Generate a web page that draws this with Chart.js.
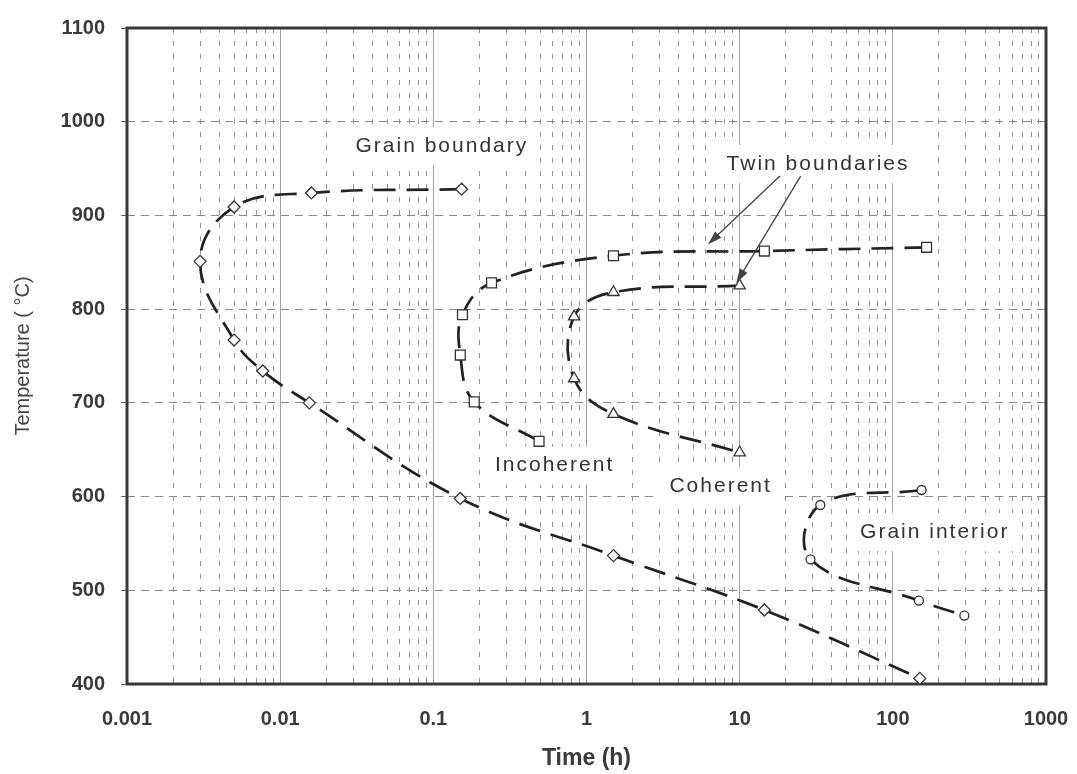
<!DOCTYPE html>
<html>
<head>
<meta charset="utf-8">
<script src="https://cdn.jsdelivr.net/npm/chart.js@4.4.1/dist/chart.umd.min.js"></script>
<style>
  html, body { margin: 0; padding: 0; background: #fff; }
  #wrap { width: 1077px; height: 774px; }
</style>
</head>
<body>
<div id="wrap"><canvas id="ttt"></canvas></div>
<script>
// values: time in hours, temperature in °C
const grainBoundaryTime = [0.153, 0.016, 0.005, 0.003, 0.005, 0.0077, 0.0155, 0.15, 1.5, 14.5, 150];
const grainBoundaryTemp = [928, 924, 909, 851, 767, 734, 700, 598, 537, 479, 406];
const incoherentTime = [166, 14.5, 1.5, 0.24, 0.155, 0.15, 0.185, 0.49];
const incoherentTemp = [866, 862, 857, 828, 794, 751, 701, 659];
const coherentTime = [10, 1.5, 0.83, 0.83, 1.5, 10];
const coherentTemp = [825, 818, 792, 726, 688, 647];
const grainInteriorTime = [154, 33.6, 29, 148, 293];
const grainInteriorTemp = [607, 591, 533, 489, 473];

// axis ticks
const decadeTicks = [0.001, 0.01, 0.1, 1, 10, 100, 1000];
const decadeLabels = ['0.001', '0.01', '0.1', '1', '10', '100', '1000'];
const minorSteps = [2, 3, 4, 5, 6, 7, 8, 9];

// text labels and the two arrows from "Twin boundaries"
const labelText = ['Grain boundary', 'Twin boundaries', 'Incoherent', 'Coherent', 'Grain interior'];
const labelTime = [0.112, 32, 0.61, 7.4, 185];
const labelTemp = [974, 955, 633, 611, 562];
const arrowStartTime = [18.3, 25];
const arrowStartTemp = [942, 942];
const arrowEndTime = [6.2, 9.5];
const arrowEndTemp = [869, 828];

const isDecade = v => decadeTicks.some(d => Math.abs(v / d - 1) < 1e-6);

function curve(label, xs, ys, style, radius) {
    return {
        label: label,
        data: xs.map((x, i) => ({ x: x, y: ys[i] })),
        showLine: true,
        tension: 0.4,
        borderColor: '#222',
        borderWidth: 2.7,
        borderDash: [22, 11],
        pointStyle: style,
        pointRadius: radius,
        pointHoverRadius: radius,
        pointBackgroundColor: '#fff',
        pointBorderColor: '#333',
        pointBorderWidth: 1.3
    };
}

const decor = {
    id: 'decor',
    beforeDatasetsDraw(chart) {
        const { ctx, chartArea: a, scales: { x, y } } = chart;
        ctx.save();
        ctx.font = '21px "Liberation Sans", Arial, sans-serif';
        ctx.letterSpacing = '2px';
        ctx.textAlign = 'center';
        ctx.textBaseline = 'middle';
        labelText.forEach((t, i) => {
            const px = x.getPixelForValue(labelTime[i]);
            const py = y.getPixelForValue(labelTemp[i]);
            const w = ctx.measureText(t).width + 24;
            ctx.fillStyle = '#fff';
            ctx.fillRect(px - w / 2, py - 19, w, 38);
            ctx.fillStyle = '#333';
            ctx.fillText(t, px + 1, py);
        });
        ctx.strokeStyle = '#383838';
        ctx.lineWidth = 3;
        ctx.strokeRect(a.left, a.top, a.width, a.height);
        ctx.restore();
    },
    afterDatasetsDraw(chart) {
        const { ctx, scales: { x, y } } = chart;
        ctx.save();
        ctx.strokeStyle = '#444';
        ctx.fillStyle = '#444';
        ctx.lineWidth = 1.3;
        arrowStartTime.forEach((t, i) => {
            const x0 = x.getPixelForValue(t), y0 = y.getPixelForValue(arrowStartTemp[i]);
            const x1 = x.getPixelForValue(arrowEndTime[i]), y1 = y.getPixelForValue(arrowEndTemp[i]);
            const ang = Math.atan2(y1 - y0, x1 - x0);
            ctx.beginPath();
            ctx.moveTo(x0, y0);
            ctx.lineTo(x1 - Math.cos(ang) * 10, y1 - Math.sin(ang) * 10);
            ctx.stroke();
            ctx.beginPath();
            ctx.moveTo(x1, y1);
            ctx.lineTo(x1 - Math.cos(ang - 0.3) * 15, y1 - Math.sin(ang - 0.3) * 15);
            ctx.lineTo(x1 - Math.cos(ang + 0.3) * 15, y1 - Math.sin(ang + 0.3) * 15);
            ctx.closePath();
            ctx.fill();
        });
        ctx.restore();
    }
};

new Chart(document.getElementById('ttt'), {
    type: 'scatter',
    data: {
        datasets: [
            curve('Grain boundary', grainBoundaryTime, grainBoundaryTemp, 'rectRot', 6),
            curve('Incoherent', incoherentTime, incoherentTemp, 'rect', 7),
            curve('Coherent', coherentTime, coherentTemp, 'triangle', 6.5),
            curve('Grain interior', grainInteriorTime, grainInteriorTemp, 'circle', 4.5)
        ]
    },
    options: {
        responsive: true, maintainAspectRatio: false, animation: false,
        layout: { padding: { top: 27, right: 31, left: 0, bottom: 0 } },
        plugins: { legend: { display: false }, tooltip: { enabled: false } },
        scales: {
            x: {
                type: 'logarithmic', min: 0.001, max: 1000,
                afterBuildTicks: s => {
                    const vals = [];
                    decadeTicks.forEach((d, i) => {
                        vals.push(d);
                        if (i < decadeTicks.length - 1) minorSteps.forEach(m => vals.push(d * m));
                    });
                    s.ticks = vals.map(v => ({ value: v }));
                },
                afterFit: s => { s.height = 90; s.paddingLeft = 0; s.paddingRight = 0; },
                ticks: {
                    autoSkip: false, maxRotation: 0, padding: 23, color: '#3a3a3a',
                    font: { family: '"Liberation Sans", Arial, sans-serif', size: 20, weight: 'bold' },
                    callback: v => { const i = decadeTicks.findIndex(d => Math.abs(v / d - 1) < 1e-6); return i >= 0 ? decadeLabels[i] : ''; }
                },
                grid: {
                    drawTicks: false, lineWidth: 1,
                    color: c => (c.tick && isDecade(c.tick.value)) ? '#a2a2a2' : '#939393'
                },
                border: { display: false, dash: c => (c.tick && !isDecade(c.tick.value)) ? [5, 8] : [] },
                title: {
                    display: true, text: 'Time (h)', color: '#3a3a3a', padding: { top: 0, bottom: 2 },
                    font: { family: '"Liberation Sans", Arial, sans-serif', size: 23, weight: 'bold' }
                }
            },
            y: {
                min: 400, max: 1100,
                afterFit: s => { s.width = 127; },
                ticks: {
                    stepSize: 100, padding: 16, color: '#3a3a3a',
                    font: { family: '"Liberation Sans", Arial, sans-serif', size: 20, weight: 'bold' },
                    callback: v => String(v)
                },
                grid: { color: '#888', lineWidth: 1, tickLength: 6, tickColor: '#666' },
                border: { display: false, dash: [8, 6] },
                title: {
                    display: true, text: 'Temperature ( °C)', color: '#444', padding: { top: 11, bottom: 0 },
                    font: { family: '"Liberation Sans", Arial, sans-serif', size: 20 }
                }
            }
        }
    },
    plugins: [decor]
});
</script>
</body>
</html>
